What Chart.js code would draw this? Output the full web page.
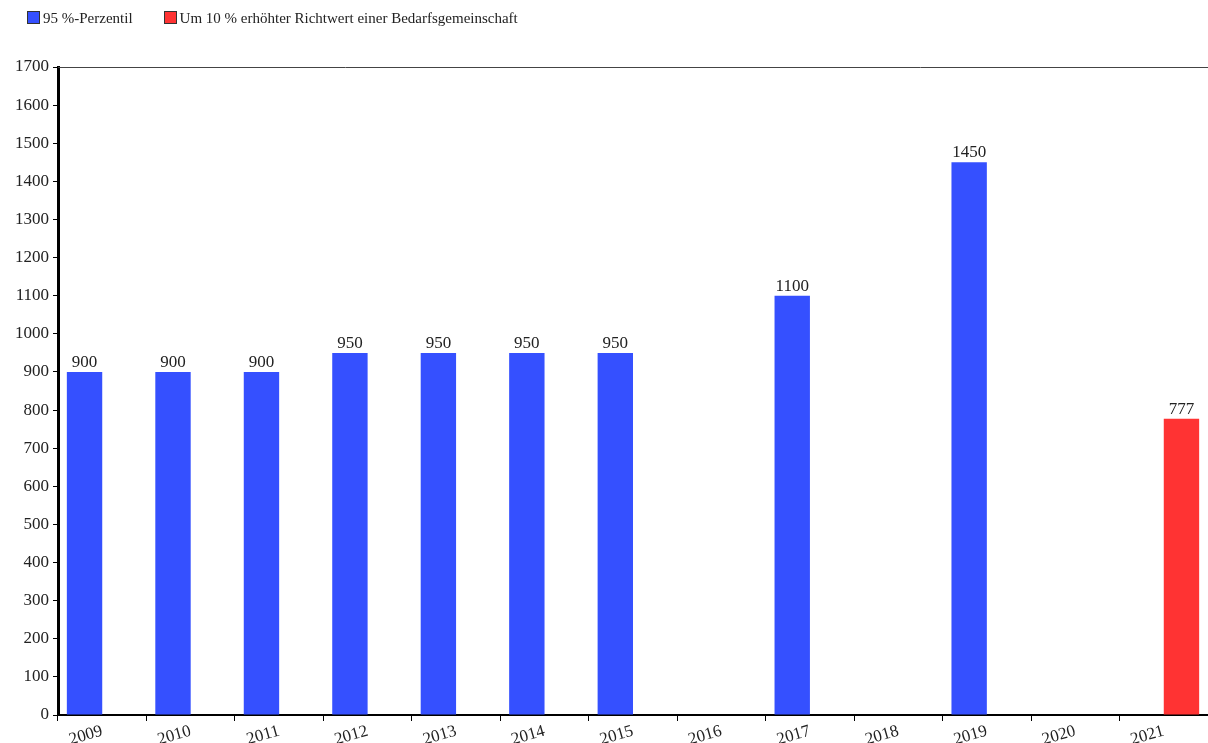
<!DOCTYPE html>
<html>
<head>
<meta charset="utf-8">
<script src="https://cdn.jsdelivr.net/npm/chart.js@4"></script>
<style>
  body { margin: 0; background: #fff; }
  #wrap { position: relative; width: 1208px; height: 743px; }
  #legend { position: absolute; left: 27px; top: 10px; font: 15px "Liberation Serif", serif; color: #222; }
  #legend span.item { margin-right: 31px; white-space: nowrap; }
  #legend i { display: inline-block; width: 11px; height: 11px; border: 1px solid #333; vertical-align: -1px; margin-right: 3px; }
</style>
</head>
<body>
<div id="wrap">
  <canvas id="chart" width="1208" height="743"></canvas>
  <div id="legend"></div>
</div>
<script>
const years = ['2009', '2010', '2011', '2012', '2013', '2014', '2015', '2016', '2017', '2018', '2019', '2020', '2021'];
const perzentil = [900, 900, 900, 950, 950, 950, 950, null, 1100, null, 1450, null, null];
const richtwert = [null, null, null, null, null, null, null, null, null, null, null, null, 777];
const seriesNames = ['95 %-Perzentil', 'Um 10 % erhöhter Richtwert einer Bedarfsgemeinschaft'];
const seriesColors = ['#3550ff', '#ff3333'];
const yTicks = [0, 1700, 100]; // min, max, step

const fontFamily = '"Liberation Serif", "Times New Roman", serif';

// legend as html
document.getElementById('legend').innerHTML = seriesNames.map((n, i) =>
  '<span class="item"><i style="background:' + seriesColors[i] + '"></i>' + n + '</span>').join('');

// value labels above bars + top border line
const barLabels = {
  id: 'barLabels',
  afterDatasetsDraw(chart) {
    const ctx = chart.ctx;
    ctx.save();
    ctx.font = '17px ' + fontFamily;
    ctx.fillStyle = '#222';
    ctx.textAlign = 'center';
    ctx.textBaseline = 'bottom';
    chart.data.datasets.forEach((ds, i) => {
      chart.getDatasetMeta(i).data.forEach((bar, j) => {
        if (ds.data[j] == null) return;
        ctx.fillText(ds.data[j], bar.x, bar.y - 1);
      });
    });
    const a = chart.chartArea;
    ctx.strokeStyle = '#444';
    ctx.lineWidth = 1;
    ctx.beginPath();
    ctx.moveTo(a.left, a.top + 0.5);
    ctx.lineTo(a.right, a.top + 0.5);
    ctx.stroke();
    ctx.restore();
  }
};

new Chart(document.getElementById('chart'), {
  type: 'bar',
  data: {
    labels: years,
    datasets: [
      { label: seriesNames[0], data: perzentil, backgroundColor: seriesColors[0] },
      { label: seriesNames[1], data: richtwert, backgroundColor: seriesColors[1] }
    ]
  },
  options: {
    responsive: false,
    animation: false,
    categoryPercentage: 0.8,
    barPercentage: 1.0,
    layout: { padding: { top: 67, right: 0, left: 0, bottom: 0 } },
    plugins: {
      legend: { display: false },
      tooltip: { enabled: false }
    },
    scales: {
      x: {
        grid: { offset: true, drawOnChartArea: false, drawTicks: true, tickLength: 6, color: '#000' },
        border: { display: true, color: '#000', width: 2 },
        ticks: {
          color: '#222',
          font: { family: fontFamily, size: 17 },
          minRotation: 16,
          maxRotation: 16,
          padding: 0
        },
        afterFit(scale) { scale.height = 28; }
      },
      y: {
        min: yTicks[0],
        max: yTicks[1],
        grid: { drawOnChartArea: false, drawTicks: true, tickLength: 5, color: '#000' },
        border: { display: true, color: '#000', width: 3 },
        ticks: {
          stepSize: yTicks[2],
          color: '#222',
          font: { family: fontFamily, size: 17 },
          padding: 4,
          callback: v => String(v)
        },
        afterFit(scale) { scale.width = 58; }
      }
    }
  },
  plugins: [barLabels]
});
</script>
</body>
</html>
